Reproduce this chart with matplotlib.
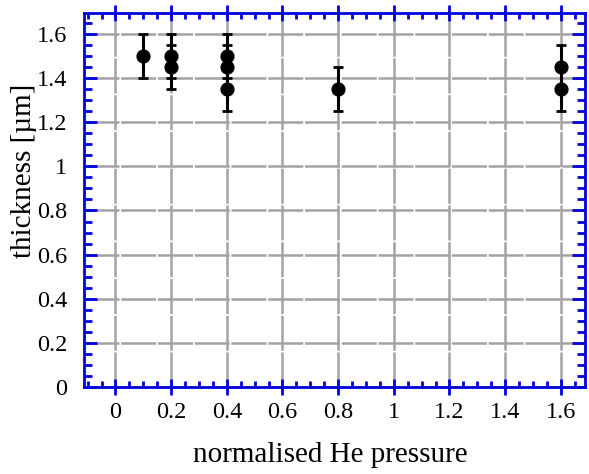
import matplotlib
matplotlib.use("Agg")
import matplotlib.pyplot as plt
from matplotlib.ticker import MultipleLocator

# thickness measurements vs normalised He pressure
pressure  = [0.1, 0.2, 0.2, 0.4, 0.4, 0.4, 0.8, 1.6, 1.6]
thickness = [1.5, 1.5, 1.45, 1.5, 1.45, 1.35, 1.35, 1.45, 1.35]
thick_err = [0.1, 0.1, 0.1, 0.1, 0.1, 0.1, 0.1, 0.1, 0.1]

plt.rcParams["font.family"] = ["Liberation Serif", "DejaVu Serif"]

W, H = 589, 474
fig = plt.figure(figsize=(W / 100, H / 100), dpi=100)
ax = fig.add_axes([84 / W, 1 - 387 / H, (585 - 84) / W, (387 - 13) / H])

ax.errorbar(pressure, thickness, yerr=thick_err, fmt="o", color="black",
            ms=9.2, elinewidth=2.2, capsize=3.5, capthick=2, zorder=3)

ax.set_xlim(-0.113, 1.687)
ax.set_ylim(0, 1.695)

ax.xaxis.set_major_locator(MultipleLocator(0.2))
ax.xaxis.set_minor_locator(MultipleLocator(0.05))
ax.yaxis.set_major_locator(MultipleLocator(0.2))
ax.yaxis.set_minor_locator(MultipleLocator(0.05))

fmt = lambda v, _: f"{v:g}"
ax.xaxis.set_major_formatter(fmt)
ax.yaxis.set_major_formatter(fmt)

blue = "#0000dd"
for s in ax.spines.values():
    s.set_color(blue)
    s.set_linewidth(2)

ax.tick_params(axis="x", which="major", direction="inout", length=12, width=2,
               color=blue, top=True, labelsize=17.5, pad=5)
ax.tick_params(axis="x", which="minor", direction="in", length=4.5, width=2,
               color=blue, top=True)
ax.tick_params(axis="y", which="major", direction="in", length=9.5, width=2,
               color=blue, right=True, labelsize=17.5, pad=12)
ax.tick_params(axis="y", which="minor", direction="in", length=6, width=2,
               color=blue, right=True)

ax.set_axisbelow(True)
ax.grid(True, which="major", color="#a2a2a2", linewidth=1.8,
        linestyle=(0, (14, 0.7)))

fig.text(330 / W, 1 - 462 / H, "normalised He pressure", ha="center",
         va="baseline", fontsize=21)
fig.text(24 / W, 1 - 171 / H, "thickness [µm]", rotation=90,
         ha="center", va="center", fontsize=21)

fig.savefig("out.png", dpi=100)
